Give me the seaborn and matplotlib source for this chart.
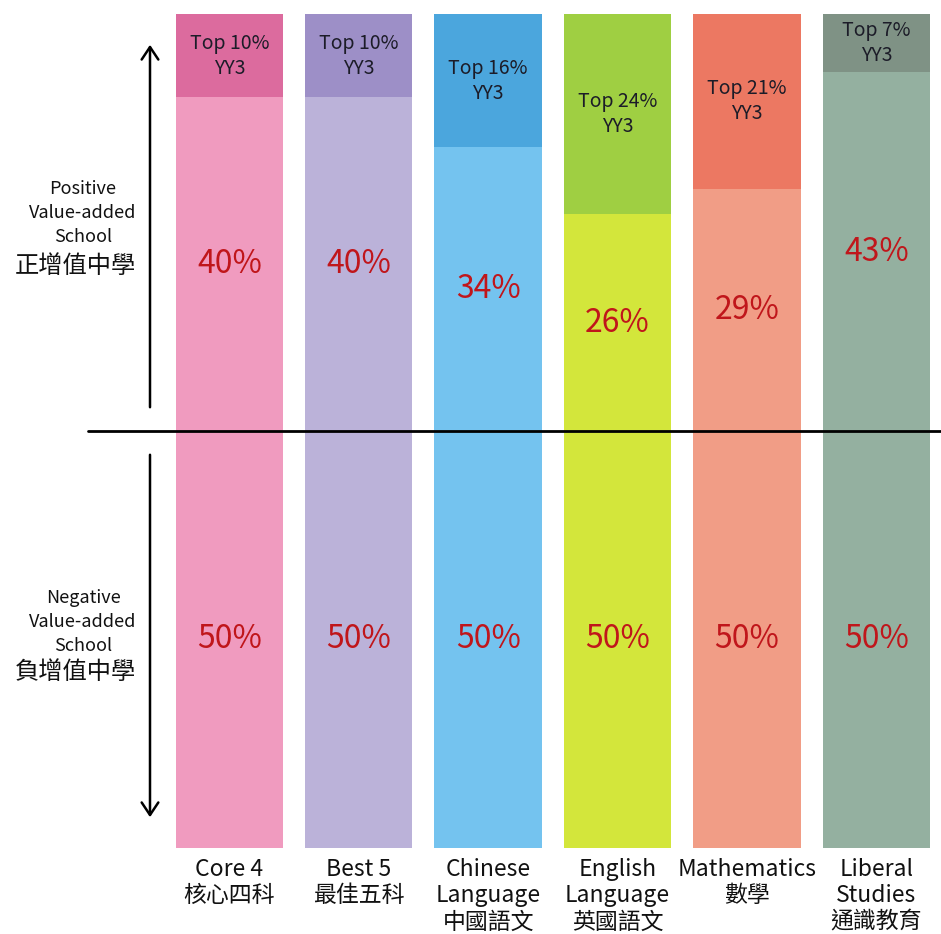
import pandas as pd
import seaborn as sns
import matplotlib.pyplot as plt
from matplotlib.patches import FancyArrowPatch

subjects = ["Core 4\n核心四科", "Best 5\n最佳五科", "Chinese\nLanguage\n中國語文",
            "English\nLanguage\n英國語文", "Mathematics\n數學", "Liberal\nStudies\n通識教育"]
negative = [50, 50, 50, 50, 50, 50]
positive = [40, 40, 34, 26, 29, 43]
top_yy3 = [10, 10, 16, 24, 21, 7]

top_colors = ["#dc6b9e", "#9d8fc7", "#4ba6dd", "#9fcf42", "#ec7862", "#7f9285"]
base_colors = ["#f09bbf", "#bbb2d9", "#74c3ef", "#d3e63b", "#f19d86", "#94b0a0"]

df = pd.DataFrame({"subject": subjects, "neg": negative, "pos": positive, "top": top_yy3})
df["mid_total"] = df["neg"] + df["pos"]
df["total"] = df["mid_total"] + df["top"]

sns.set_theme(style="white")
plt.rcParams["font.family"] = ["Noto Sans CJK TC", "DejaVu Sans"]

fig = plt.figure(figsize=(9.41, 9.34), dpi=100)
ax = fig.add_axes([0.175, 0.0921, 0.825, 0.893])

sns.barplot(data=df, x="subject", y="total", hue="subject", palette=top_colors,
            saturation=1, width=0.83, linewidth=0, legend=False, ax=ax)
sns.barplot(data=df, x="subject", y="mid_total", hue="subject", palette=base_colors,
            saturation=1, width=0.83, linewidth=0, legend=False, ax=ax)

ax.set_xlim(-0.5, 5.5)
ax.set_ylim(0, 100)
ax.set_xlabel("")
ax.set_ylabel("")
ax.set_yticks([])
ax.set_xticks([])
for s in ax.spines.values():
    s.set_visible(False)

# labels inside bars
red = "#c0161b"
for i, row in df.iterrows():
    ax.text(i, row["neg"] / 2, f"{row['neg']}%", ha="center", va="center",
            color=red, fontsize=23)
    ax.text(i, row["neg"] + row["pos"] / 2, f"{row['pos']}%", ha="center", va="center",
            color=red, fontsize=23)
    ax.text(i, row["mid_total"] + row["top"] / 2, f"Top {row['top']}%\nYY3",
            ha="center", va="center", color="#1c1c28", fontsize=14, linespacing=1.25)
    ax.text(i, -1.2, row["subject"], ha="center", va="top", color="#111111",
            fontsize=16.5, linespacing=1.18)

# divider line at 50%
ax.plot([-0.5 - 0.595, 5.5], [50, 50], color="black", lw=2, clip_on=False)


# arrows and side labels (figure pixel coords)
def fx(px):
    return px / 941


def fy(py):
    return 1 - py / 934


fig.add_artist(FancyArrowPatch(
    (fx(150), fy(410)), (fx(150), fy(42)), transform=fig.transFigure,
    arrowstyle="->,head_length=9,head_width=6", lw=1.8, color="black"))
fig.add_artist(FancyArrowPatch(
    (fx(150), fy(452)), (fx(150), fy(820)), transform=fig.transFigure,
    arrowstyle="->,head_length=9,head_width=6", lw=1.8, color="black"))

fig.text(fx(83), fy(213), "Positive\nValue-added\nSchool", ha="center", va="center",
         fontsize=13, linespacing=1.42, color="#111111")
fig.text(fx(75), fy(266), "正增值中學", ha="center", va="center",
         fontsize=17.5, color="#111111")
fig.text(fx(83), fy(622), "Negative\nValue-added\nSchool", ha="center", va="center",
         fontsize=13, linespacing=1.42, color="#111111")
fig.text(fx(75), fy(672), "負增值中學", ha="center", va="center",
         fontsize=17.5, color="#111111")

fig.savefig("out.png", dpi=100, facecolor="white")
